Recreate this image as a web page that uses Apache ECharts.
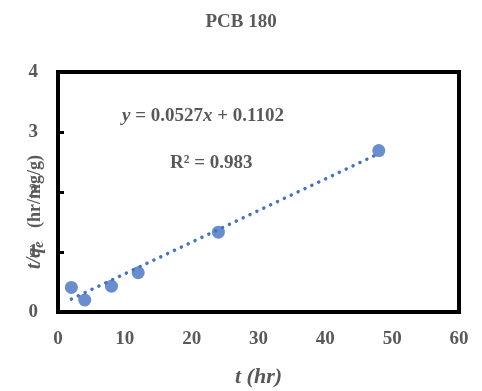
<!DOCTYPE html>
<html>
<head>
<meta charset="utf-8">
<script src="https://cdn.jsdelivr.net/npm/echarts@6/dist/echarts.min.js"></script>
<style>
  html, body { margin: 0; padding: 0; background: #fff; }
  #chart { width: 482px; height: 391px; }
</style>
</head>
<body>
<div id="chart"></div>
<script>
// Sorption time (hr) and t/qe (hr/mg/g) for PCB 180
const times = [2, 4, 8, 12, 24, 48];
const tOverQe = [0.41, 0.20, 0.43, 0.655, 1.33, 2.69];

// Linear fit shown on the plot
const slope = 0.0527;
const intercept = 0.1102;
const rSquared = '0.983';
const fitRange = [2, 48];

const xTicks = [0, 10, 20, 30, 40, 50, 60];
const yTicks = [0, 1, 2, 3, 4];

const serif = '"Liberation Serif", "DejaVu Serif", serif';
const textGray = '#595959';
const blue = '#4472C4';

const fitLine = fitRange.map(function (x) { return [x, slope * x + intercept]; });

const chart = echarts.init(document.getElementById('chart'));
chart.setOption({
  animation: false,
  title: {
    text: 'PCB 180',
    left: 'center',
    top: 8,
    textStyle: { fontFamily: serif, fontWeight: 'bold', fontSize: 19, color: textGray }
  },
  grid: {
    left: 58, top: 72, right: 23, bottom: 79,
    outerBoundsMode: 'none',
    containLabel: false,
    show: true, borderColor: '#000', borderWidth: 4, backgroundColor: 'transparent'
  },
  xAxis: {
    type: 'value',
    min: xTicks[0], max: xTicks[xTicks.length - 1], interval: 10,
    name: 't (hr)',
    nameLocation: 'middle',
    nameGap: 54,
    nameMoveOverlap: false,
    nameTextStyle: { fontFamily: serif, fontWeight: 'bold', fontStyle: 'italic', fontSize: 22, color: textGray },
    axisLine: { show: false },
    axisTick: { show: false },
    splitLine: { show: false },
    axisLabel: { margin: 18, fontFamily: serif, fontWeight: 'bold', fontSize: 19, color: textGray }
  },
  yAxis: {
    type: 'value',
    min: yTicks[0], max: yTicks[yTicks.length - 1], interval: 1,
    axisLine: { show: false },
    axisTick: { show: true, inside: true, length: 6, lineStyle: { color: '#000', width: 3 } },
    splitLine: { show: false },
    axisLabel: { margin: 20, fontFamily: serif, fontWeight: 'bold', fontSize: 19, color: textGray }
  },
  graphic: [
    {
      // vertical y-axis title, drawn over the tick label column
      type: 'text', x: 35, y: 212, rotation: Math.PI / 2, z: 10,
      style: {
        text: '{i|t/q}{s|e}{n|   (hr/mg/g)}',
        align: 'center', verticalAlign: 'middle',
        rich: {
          i: { fontFamily: serif, fontWeight: 'bold', fontStyle: 'italic', fontSize: 20, fill: textGray },
          s: { fontFamily: serif, fontWeight: 'bold', fontStyle: 'italic', fontSize: 14, fill: textGray, verticalAlign: 'bottom', padding: [9, 0, 0, 0] },
          n: { fontFamily: serif, fontWeight: 'bold', fontSize: 18, fill: textGray }
        }
      }
    },
    {
      type: 'text', left: 122, top: 107,
      style: {
        text: '{i|y}{n| = 0.0527}{i|x}{n| + 0.1102}',
        rich: {
          i: { fontFamily: serif, fontWeight: 'bold', fontStyle: 'italic', fontSize: 19, fill: textGray },
          n: { fontFamily: serif, fontWeight: 'bold', fontSize: 19, fill: textGray }
        }
      }
    },
    {
      type: 'text', left: 170, top: 154,
      style: {
        text: 'R² = ' + rSquared,
        fontFamily: serif, fontWeight: 'bold', fontSize: 19, fill: textGray
      }
    }
  ],
  series: [
    {
      type: 'line',
      data: fitLine,
      symbol: 'none',
      lineStyle: { color: blue, width: 3.5, type: [0.1, 7.5], cap: 'round' },
      z: 2
    },
    {
      type: 'scatter',
      data: times.map(function (t, i) { return [t, tOverQe[i]]; }),
      symbol: 'circle',
      symbolSize: 13,
      itemStyle: { color: blue },
      z: 3
    }
  ]
});
</script>
</body>
</html>
